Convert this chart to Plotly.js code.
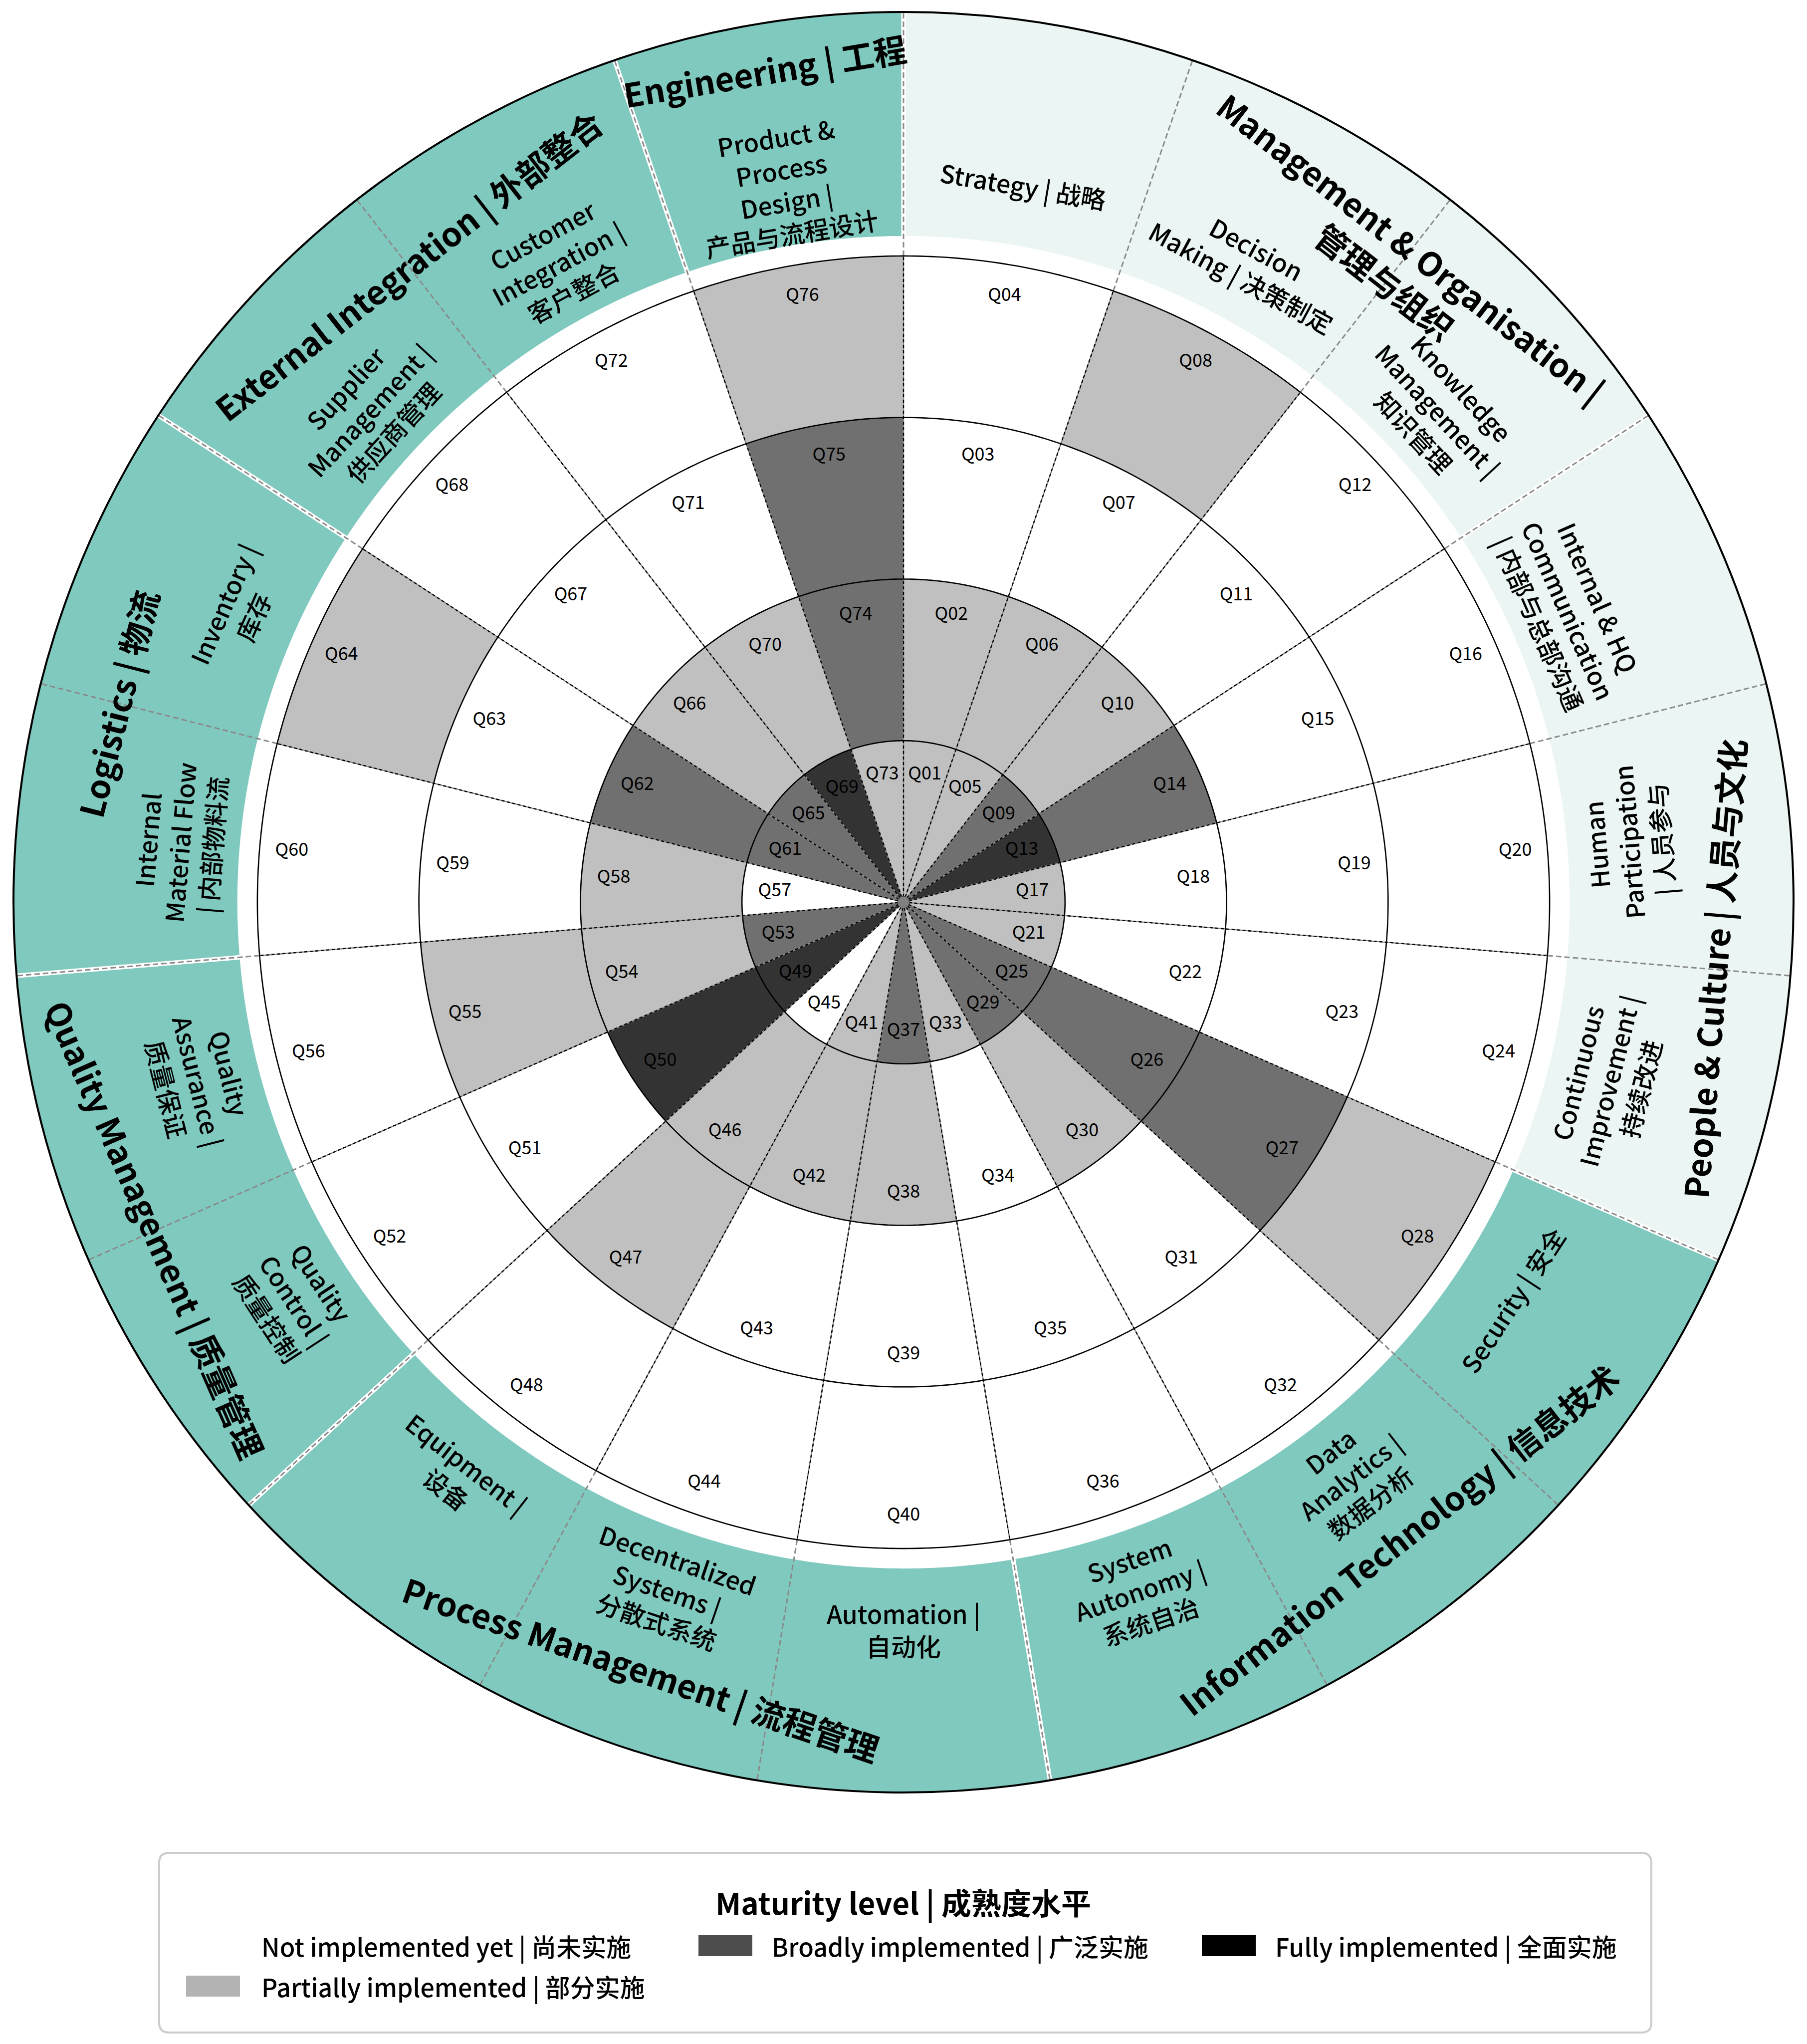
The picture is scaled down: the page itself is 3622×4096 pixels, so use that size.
<!DOCTYPE html>
<html>
<head>
<meta charset="utf-8">
<script src="https://cdn.plot.ly/plotly-3.0.1.min.js"></script>
<style>
html,body{margin:0;padding:0;background:#ffffff;}
#chart{width:3622px;height:4096px;}
</style>
</head>
<body>
<div id="chart"></div>
<script>
// ---------------- DATA ----------------
const subDimensions = [
  "Strategy | 战略",
  "Decision<br>Making | 决策制定",
  "Knowledge<br>Management |<br>知识管理",
  "Internal & HQ<br>Communication<br>| 内部与总部沟通",
  "Human<br>Participation<br>| 人员参与",
  "Continuous<br>Improvement |<br>持续改进",
  "Security | 安全",
  "Data<br>Analytics |<br>数据分析",
  "System<br>Autonomy |<br>系统自治",
  "Automation |<br>自动化",
  "Decentralized<br>Systems |<br>分散式系统",
  "Equipment |<br>设备",
  "Quality<br>Control |<br>质量控制",
  "Quality<br>Assurance |<br>质量保证",
  "Internal<br>Material Flow<br>| 内部物料流",
  "Inventory |<br>库存",
  "Supplier<br>Management |<br>供应商管理",
  "Customer<br>Integration |<br>客户整合",
  "Product &<br>Process<br>Design |<br>产品与流程设计"
];

const dimensionNames = [
  "Management & Organisation |<br>管理与组织",
  "People & Culture | 人员与文化",
  "Information Technology | 信息技术",
  "Process Management | 流程管理",
  "Quality Management | 质量管理",
  "Logistics | 物流",
  "External Integration | 外部整合",
  "Engineering | 工程"
];
const dimensionSpans = [3, 3, 3, 3, 2, 2, 2, 1];

const questionIds = [
  "Q01","Q02","Q03","Q04","Q05","Q06","Q07","Q08","Q09","Q10",
  "Q11","Q12","Q13","Q14","Q15","Q16","Q17","Q18","Q19","Q20",
  "Q21","Q22","Q23","Q24","Q25","Q26","Q27","Q28","Q29","Q30",
  "Q31","Q32","Q33","Q34","Q35","Q36","Q37","Q38","Q39","Q40",
  "Q41","Q42","Q43","Q44","Q45","Q46","Q47","Q48","Q49","Q50",
  "Q51","Q52","Q53","Q54","Q55","Q56","Q57","Q58","Q59","Q60",
  "Q61","Q62","Q63","Q64","Q65","Q66","Q67","Q68","Q69","Q70",
  "Q71","Q72","Q73","Q74","Q75","Q76"
];

// 0 = not implemented yet, 1 = partially, 2 = broadly, 3 = fully
const maturityLevels = [
  1,1,0,0,  1,1,0,1,  2,1,0,0,  3,2,0,0,  1,0,0,0,
  1,0,0,0,  2,2,2,1,  2,1,0,0,  1,0,0,0,  2,1,0,0,
  1,1,0,0,  0,1,1,0,  3,3,0,0,  2,1,1,0,  0,1,0,0,
  2,2,0,1,  2,1,0,0,  3,1,0,0,  1,2,2,1
];

const levelNames = [
  "Not implemented yet | 尚未实施",
  "Partially implemented | 部分实施",
  "Broadly implemented | 广泛实施",
  "Fully implemented | 全面实施"
];
const legendTitle = "Maturity level | 成熟度水平";

// ---------------- STYLE ----------------
const FONT = "Noto Sans CJK SC, Noto Sans, sans-serif";
const cellColors = ["#ffffff", "#c0c0c0", "#707070", "#333333"];
const swatchColors = ["#ffffff", "#b3b3b3", "#4d4d4d", "#000000"];
const dimensionColors = ["#ebf6f4","#ebf6f4","#80c9bf","#80c9bf","#80c9bf","#80c9bf","#80c9bf","#80c9bf"];
const dimLabelAngle = [37.8, 94.7, 142.1, 198.9, 246.4, 284.2, 322.1, 350.5];
const dimLabelRadius = [5.0, 5.03, 4.99, 5.01, 5.05, 5.02, 5.0, 5.22];

const W = 3622, H = 4096;
const CX = 1811, CY = 1808, RPX = 1784, RMAX = 5.51;
const U = RPX / RMAX;
const NS = subDimensions.length;
const STEP = 360 / NS;
const BAND_IN = 4.11, BAND_OUT = 5.75;

function toPaper(theta, rho) {
  const a = theta * Math.PI / 180;
  return [(CX + rho * U * Math.sin(a)) / W, 1 - (CY - rho * U * Math.cos(a)) / H];
}
function upright(theta) {
  const a = ((theta % 360) + 360) % 360;
  if (a > 80 && a < 270) return a - 180;
  return a > 180 ? a - 360 : a;
}
const P = (x, y) => `${x / W},${1 - y / H}`;

const traces = [];

// Dimension band
const dimTheta = [], dimWidth = [];
let start = 0;
dimensionSpans.forEach(n => { dimTheta.push((start + n / 2) * STEP); dimWidth.push(n * STEP); start += n; });
traces.push({
  type: "barpolar", theta: dimTheta, width: dimWidth,
  base: dimTheta.map(() => BAND_IN), r: dimTheta.map(() => BAND_OUT - BAND_IN),
  marker: { color: dimensionColors, line: { color: "#ffffff", width: 9 } },
  hoverinfo: "skip", showlegend: false
});

// Question cells, one trace per maturity level
levelNames.forEach((name, L) => {
  const th = [], base = [], rr = [], tx = [];
  maturityLevels.forEach((v, q) => {
    if (v !== L) return;
    const s = Math.floor(q / 4), ring = q % 4;
    th.push((s + 0.5) * STEP); base.push(ring); rr.push(1); tx.push(questionIds[q]);
  });
  traces.push({
    type: "barpolar", name: name, theta: th, base: base, r: rr, width: th.map(() => STEP),
    marker: { color: cellColors[L], line: { width: 0 } }, text: tx,
    hoverinfo: "text", showlegend: false
  });
});

// Radial separators
const sepTheta = [], sepR = [], sepTheta2 = [], sepR2 = [];
for (let i = 0; i < NS; i++) {
  const t = i * STEP;
  sepTheta.push(t, t, null); sepR.push(0, 4, null);
  sepTheta2.push(t, t, null); sepR2.push(4, 5.7, null);
}
traces.push({ type: "scatterpolar", mode: "lines", theta: sepTheta, r: sepR,
  line: { color: "#8a8a8a", width: 2.4 }, hoverinfo: "skip", showlegend: false });
traces.push({ type: "scatterpolar", mode: "lines", theta: sepTheta, r: sepR,
  line: { color: "#000000", width: 2.4, dash: "6px,5px" }, hoverinfo: "skip", showlegend: false });
traces.push({ type: "scatterpolar", mode: "lines", theta: sepTheta2, r: sepR2,
  line: { color: "#8a8a8a", width: 3, dash: "11px,6px" }, hoverinfo: "skip", showlegend: false });

// Ring circles
const cTheta = [], cR = [];
for (let k = 1; k <= 4; k++) {
  for (let a = 0; a <= 360; a += 0.5) { cTheta.push(a); cR.push(k); }
  cTheta.push(null); cR.push(null);
}
traces.push({ type: "scatterpolar", mode: "lines", theta: cTheta, r: cR,
  line: { color: "#000000", width: 2.6 }, hoverinfo: "skip", showlegend: false });

// Question labels
traces.push({
  type: "scatterpolar", mode: "text",
  theta: questionIds.map((_, q) => (Math.floor(q / 4) + 0.5) * STEP),
  r: questionIds.map((_, q) => (q % 4) + 1 - 0.2),
  text: questionIds,
  textfont: { family: FONT, size: 36, color: "#000000" },
  textposition: "middle center", hoverinfo: "skip", showlegend: false
});

// Center dot
traces.push({ type: "scatterpolar", mode: "markers", theta: [0], r: [0],
  marker: { size: 24, color: "#808080", line: { color: "#444444", width: 1.5 } },
  hoverinfo: "skip", showlegend: false });

// Annotations
const annotations = [];
subDimensions.forEach((txt, s) => {
  const th = (s + 0.5) * STEP;
  const [x, y] = toPaper(th, 4.5);
  annotations.push({ xref: "paper", yref: "paper", x: x, y: y, text: txt, showarrow: false,
    xanchor: "center", yanchor: "middle", align: "center", textangle: upright(th),
    font: { family: FONT, size: 50, color: "#000000", weight: 500 } });
});
dimensionNames.forEach((txt, d) => {
  const th = dimLabelAngle[d];
  const [x, y] = toPaper(th, dimLabelRadius[d]);
  annotations.push({ xref: "paper", yref: "paper", x: x, y: y, text: txt, showarrow: false,
    xanchor: "center", yanchor: "middle", align: "center", textangle: upright(th),
    font: { family: FONT, size: 66, color: "#000000", weight: 700 } });
});

// Legend (drawn manually)
const LG = { L: 319, R: 3310, T: 3713, B: 4073, rad: 20 };
const shapes = [];
shapes.push({ type: "path", xref: "paper", yref: "paper",
  path: `M ${P(LG.L + LG.rad, LG.T)} L ${P(LG.R - LG.rad, LG.T)} Q ${P(LG.R, LG.T)} ${P(LG.R, LG.T + LG.rad)} ` +
        `L ${P(LG.R, LG.B - LG.rad)} Q ${P(LG.R, LG.B)} ${P(LG.R - LG.rad, LG.B)} L ${P(LG.L + LG.rad, LG.B)} ` +
        `Q ${P(LG.L, LG.B)} ${P(LG.L, LG.B - LG.rad)} L ${P(LG.L, LG.T + LG.rad)} Q ${P(LG.L, LG.T)} ${P(LG.L + LG.rad, LG.T)} Z`,
  line: { color: "#cccccc", width: 4 }, fillcolor: "#ffffff", layer: "below" });
annotations.push({ xref: "paper", yref: "paper", x: 1810 / W, y: 1 - 3810 / H, text: legendTitle,
  showarrow: false, xanchor: "center", yanchor: "middle",
  font: { family: FONT, size: 60, color: "#000000", weight: 700 } });
const legCol = [0, 0, 1, 2], legRow = [0, 1, 0, 0];
const colSwatchX = [373, 1400, 2409], colTextX = [522, 1545, 2554], rowY = [3899, 3980];
levelNames.forEach((name, L) => {
  const x0 = colSwatchX[legCol[L]], yc = rowY[legRow[L]];
  shapes.push({ type: "rect", xref: "paper", yref: "paper",
    x0: x0 / W, x1: (x0 + 108) / W, y0: 1 - (yc + 21) / H, y1: 1 - (yc - 21) / H,
    fillcolor: swatchColors[L], line: { width: 0 } });
  annotations.push({ xref: "paper", yref: "paper", x: colTextX[legCol[L]] / W, y: 1 - yc / H,
    text: name, showarrow: false, xanchor: "left", yanchor: "middle",
    font: { family: FONT, size: 50, color: "#000000", weight: 500 } });
});

const layout = {
  width: W, height: H,
  margin: { l: 0, r: 0, t: 0, b: 0 },
  paper_bgcolor: "#ffffff",
  showlegend: false,
  hovermode: false,
  polar: {
    domain: { x: [(CX - RPX) / W, (CX + RPX) / W], y: [1 - (CY + RPX) / H, 1 - (CY - RPX) / H] },
    bgcolor: "rgba(0,0,0,0)",
    radialaxis: { range: [0, RMAX], visible: false, showgrid: false },
    angularaxis: { rotation: 90, direction: "clockwise", showgrid: false, showticklabels: false,
      ticks: "", showline: true, linecolor: "#000000", linewidth: 4 }
  },
  annotations: annotations,
  shapes: shapes
};

Plotly.newPlot("chart", traces, layout, { staticPlot: true });
</script>
</body>
</html>
